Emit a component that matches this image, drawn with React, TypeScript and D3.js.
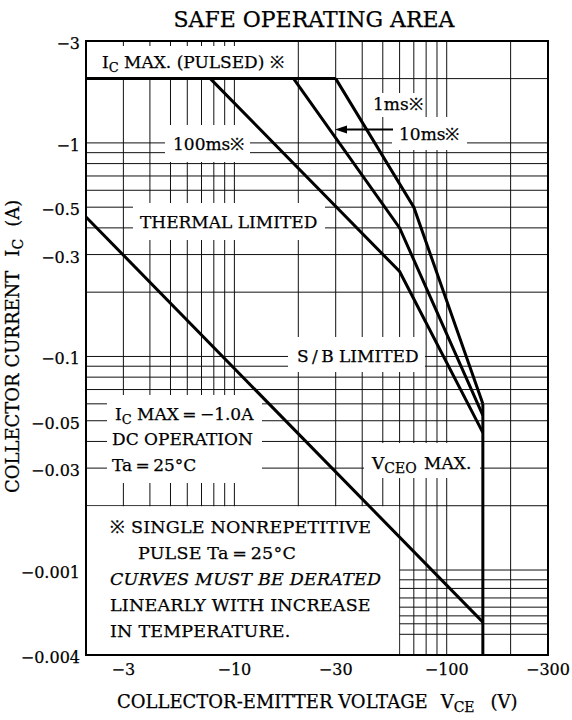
import React, { useEffect, useRef } from 'react';
import * as d3 from 'd3';

// axis ticks (values are magnitudes, labels carry the minus sign)
const xTickValues = [3, 10, 30, 100, 300];
const xTickLabels = ['−3', '−10', '−30', '−100', '−300'];
const yTickValues = [3, 1, 0.5, 0.3, 0.1, 0.05, 0.03, 0.01, 0.004];
const yTickLabels = ['−3', '−1', '−0.5', '−0.3', '−0.1', '−0.05', '−0.03', '−0.001', '−0.004'];

// log grid
const xGrid = [3, 4, 5, 6, 7, 8, 9, 10, 20, 30, 40, 50, 60, 70, 80, 90, 100, 200];
const yGrid = [2, 1, 0.9, 0.8, 0.7, 0.6, 0.5, 0.4, 0.3, 0.2, 0.1, 0.09, 0.08, 0.07, 0.06, 0.05, 0.04, 0.03, 0.02];
const yGridLow = [0.01, 0.009, 0.0082, 0.0074, 0.0067, 0.0061, 0.0056, 0.005];

// SOA boundaries: V_CE (V) and I_C (A)
const pulsedV = [2, 30];
const pulsedI = [2, 2];
const ms1V = [30, 70, 148];
const ms1I = [2, 0.5, 0.06];
const ms10V = [19, 60, 148];
const ms10I = [2, 0.4, 0.053];
const ms100V = [7.7, 60, 148];
const ms100I = [2, 0.25, 0.044];
const dcV = [2, 148];
const dcI = [0.45, 0.0057];
const vceoV = [148, 148];
const vceoI = [0.06, 0.004];

const FONT = '"DejaVu Serif", serif';

type Txt = d3.Selection<SVGTextElement, unknown, null, undefined>;

const App: React.FC = () => {
  const ref = useRef<SVGSVGElement>(null);

  useEffect(() => {
    document.body.style.margin = '0';
    if (!ref.current) return;
    const svg = d3.select(ref.current);
    svg.selectAll('*').remove();

    const left = 86, right = 548, top = 41, bottom = 655;
    const x = d3.scaleLog().domain([2, 300]).range([left, right]);
    const y = d3.scaleLog().domain([3, 0.004]).range([top, bottom]);

    svg.append('rect').attr('width', 572).attr('height', 720).attr('fill', '#fff');

    // grid
    const grid = svg.append('g').attr('stroke', '#111').attr('stroke-width', 1);
    grid.selectAll('.gx').data(xGrid).enter().append('line')
      .attr('x1', d => x(d)).attr('x2', d => x(d))
      .attr('y1', top).attr('y2', bottom);
    grid.selectAll('.gy').data(yGrid.concat(yGridLow)).enter().append('line')
      .attr('x1', left).attr('x2', right)
      .attr('y1', d => y(d)).attr('y2', d => y(d));

    // white boxes behind the labels
    const masks: [number, number, number, number][] = [
      [87, 46, 292, 77],
      [367, 93, 424, 117],
      [392, 117, 467, 150],
      [165, 125, 250, 162],
      [133, 203, 325, 240],
      [288, 337, 425, 372],
      [107, 395, 262, 483],
      [364, 443, 480, 478],
      [87, y(0.02) + 0.5, x(60) - 0.5, bottom],
    ];
    svg.append('g').selectAll('rect').data(masks).enter().append('rect')
      .attr('x', d => d[0]).attr('y', d => d[1])
      .attr('width', d => d[2] - d[0]).attr('height', d => d[3] - d[1])
      .attr('fill', '#fff');

    // frame
    svg.append('rect')
      .attr('x', left).attr('y', top)
      .attr('width', right - left).attr('height', bottom - top)
      .attr('fill', 'none').attr('stroke', '#000').attr('stroke-width', 2);

    // curves
    const line = d3.line<[number, number]>().x(d => x(d[0])).y(d => y(d[1]));
    const series: [number[], number[]][] = [
      [pulsedV, pulsedI], [ms1V, ms1I], [ms10V, ms10I], [ms100V, ms100I], [dcV, dcI], [vceoV, vceoI],
    ];
    svg.append('g').selectAll('path').data(series).enter().append('path')
      .attr('d', d => line(d[0].map((v, i) => [v, d[1][i]] as [number, number])))
      .attr('fill', 'none').attr('stroke', '#000').attr('stroke-width', 3)
      .attr('stroke-linejoin', 'miter');

    // arrow pointing to the 10ms curve
    svg.append('line').attr('x1', 393).attr('x2', 345).attr('y1', 129.5).attr('y2', 129.5)
      .attr('stroke', '#000').attr('stroke-width', 2);
    svg.append('path').attr('d', 'M335,129.5 L347,125.5 L347,133.5 Z').attr('fill', '#000');

    const text = (tx: number, ty: number, size: number): Txt =>
      svg.append('text').attr('x', tx).attr('y', ty)
        .attr('font-family', FONT).attr('font-size', size)
        .attr('fill', '#000').attr('stroke', '#000').attr('stroke-width', 0.25);

    const sub = (t: Txt, a: string, s: string, b: string, gap = 0, size = 13) => {
      t.append('tspan').text(a);
      t.append('tspan').attr('font-size', size).attr('dy', 4).text(s);
      t.append('tspan').attr('dy', -4).attr('dx', gap).text(b);
      return t;
    };

    // title
    text(314, 27, 22).attr('text-anchor', 'middle').text('SAFE OPERATING AREA');

    // tick labels
    svg.append('g').selectAll('text').data(yTickValues).enter().append('text')
      .attr('x', 80).attr('y', d => y(d) + 8)
      .attr('text-anchor', 'end').attr('font-family', FONT).attr('font-size', 16)
      .attr('stroke', '#000').attr('stroke-width', 0.25)
      .text((d, i) => yTickLabels[i]);
    svg.append('g').selectAll('text').data(xTickValues).enter().append('text')
      .attr('x', d => x(d)).attr('y', 675)
      .attr('text-anchor', 'middle').attr('font-family', FONT).attr('font-size', 16)
      .attr('stroke', '#000').attr('stroke-width', 0.25)
      .text((d, i) => xTickLabels[i]);

    // axis titles
    const xt = text(117, 708, 18);
    xt.append('tspan').text('COLLECTOR-EMITTER VOLTAGE');
    xt.append('tspan').attr('dx', 13).text('V');
    xt.append('tspan').attr('font-size', 14).attr('dy', 4).text('CE');
    xt.append('tspan').attr('dy', -4).attr('dx', 16).text('(V)');
    const yt = svg.append('text').attr('transform', 'translate(19,493) rotate(-90)')
      .attr('font-family', FONT).attr('font-size', 18)
      .attr('stroke', '#000').attr('stroke-width', 0.25);
    yt.append('tspan').text('COLLECTOR CURRENT');
    yt.append('tspan').attr('dx', 14).text('I');
    yt.append('tspan').attr('font-size', 14).attr('dy', 4).text('C');
    yt.append('tspan').attr('dy', -4).attr('dx', 12).text('(A)');

    // annotations
    sub(text(102, 68, 17), 'I', 'C', ' MAX. (PULSED) ※');
    text(373, 110, 17).text('1ms※');
    text(399, 140, 17).text('10ms※');
    text(173, 150, 17).text('100ms※');
    text(140, 228, 17).text('THERMAL LIMITED');
    text(297, 362, 17).text('S\u2009/\u2009B LIMITED');
    sub(text(115, 420, 17), 'I', 'C', ' MAX\u2009=\u2009−1.0A');
    text(112, 445, 17).text('DC OPERATION');
    text(112, 471, 17).text('Ta\u2009=\u200925°C');
    sub(text(372, 469, 17), 'V', 'CEO', ' MAX.', 2, 14);

    text(110, 533, 17.5).attr('letter-spacing', 0.2).text('※ SINGLE NONREPETITIVE');
    text(138, 559, 17.5).attr('letter-spacing', 0.2).text('PULSE Ta\u2009=\u200925°C');
    text(110, 585, 17.5).attr('letter-spacing', 0.2).attr('font-style', 'italic').text('CURVES MUST BE DERATED');
    text(110, 611, 17.5).attr('letter-spacing', 0.2).text('LINEARLY WITH INCREASE');
    text(110, 637, 17.5).attr('letter-spacing', 0.2).text('IN TEMPERATURE.');
  }, []);

  return <svg ref={ref} width={572} height={720} style={{ display: 'block' }} />;
};

export default App;
